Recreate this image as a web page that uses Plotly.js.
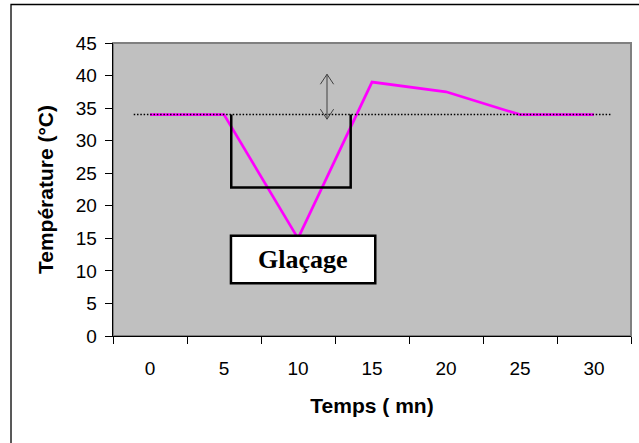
<!DOCTYPE html>
<html>
<head>
<meta charset="utf-8">
<script src="https://cdn.plot.ly/plotly-3.0.1.min.js"></script>
<style>html,body{margin:0;padding:0;background:#fff;}#chart{width:639px;height:443px;}</style>
</head>
<body>
<div id="chart"></div>
<script>
// Data
const temps = [0, 5, 10, 15, 20, 25, 30];            // minutes
const temperature = [34, 34, 15, 39, 37.5, 34, 34]; // °C
const xLabels = ["0", "5", "10", "15", "20", "25", "30"];
const consigne = 34;          // dotted reference level
const consigneX = [-1.1, 31.2];
const glacageRectX = [5.49, 13.56];
const glacageRectYBottom = 22.8;
const glacageBoxX = [5.47, 15.22];
const glacageBoxY = [8.1, 15.4];
const arrowX = 11.96;
const arrowY = [33.3, 40.2];

const trace = {
  x: temps, y: temperature, type: 'scatter', mode: 'lines',
  line: {color: '#FF00FF', width: 2.7}, hoverinfo: 'skip', showlegend: false
};

const hx = 0.45, hy = 1.54;
const shapes = [
  // plot area border (gray)
  {type: 'rect', xref: 'paper', yref: 'paper', x0: 0, x1: 1, y0: 0, y1: 1,
   line: {color: '#808080', width: 2}, layer: 'below'},
  // outer chart border
  {type: 'rect', xref: 'paper', yref: 'paper', x0: -0.1969, x1: 1.1, y0: -0.6, y1: 1.1314,
   line: {color: '#000', width: 1.3}, fillcolor: 'rgba(0,0,0,0)'},
  // dotted reference line
  {type: 'line', x0: consigneX[0], x1: consigneX[1], y0: consigne, y1: consigne,
   line: {color: '#000', width: 1.5, dash: '1.5px,1.8px'}, layer: 'above'},
  // open rectangle under reference
  {type: 'path', path: `M ${glacageRectX[0]},${consigne} L ${glacageRectX[0]},${glacageRectYBottom} L ${glacageRectX[1]},${glacageRectYBottom} L ${glacageRectX[1]},${consigne}`,
   line: {color: '#000', width: 2.5}, layer: 'above'},
  // double arrow
  {type: 'path', path: `M ${arrowX},${arrowY[0]} L ${arrowX},${arrowY[1]} M ${arrowX-hx},${arrowY[1]-hy} L ${arrowX},${arrowY[1]} L ${arrowX+hx},${arrowY[1]-hy} M ${arrowX-hx},${arrowY[0]+hy} L ${arrowX},${arrowY[0]} L ${arrowX+hx},${arrowY[0]+hy}`,
   line: {color: '#404040', width: 1}, layer: 'above'},
  // Glaçage box
  {type: 'rect', x0: glacageBoxX[0], x1: glacageBoxX[1], y0: glacageBoxY[0], y1: glacageBoxY[1],
   fillcolor: '#fff', line: {color: '#000', width: 2.5}, layer: 'above'}
];

const layout = {
  width: 639, height: 443,
  margin: {l: 113, r: 8, t: 43, b: 107},
  paper_bgcolor: '#fff', plot_bgcolor: '#C0C0C0',
  showlegend: false,
  font: {family: 'Liberation Sans, Arial, sans-serif', color: '#000'},
  xaxis: {
    range: [-2.5, 32.5], tickvals: temps, ticktext: xLabels, ticks: '',
    ticklabelstandoff: 15,
    minor: {tick0: 2.5, dtick: 5, ticks: 'outside', ticklen: 7, tickcolor: '#000', tickwidth: 1, showgrid: false},
    showline: true, linecolor: '#000', linewidth: 1.3, showgrid: false, zeroline: false,
    tickfont: {size: 19, family: 'Liberation Sans, Arial, sans-serif'},
    title: {text: 'Temps ( mn)', font: {size: 21, family: 'Liberation Sans, Arial, sans-serif', weight: 'bold'}, standoff: 20},
    fixedrange: true
  },
  yaxis: {
    range: [0, 45], dtick: 5, tick0: 0, ticks: 'outside', ticklen: 7, tickcolor: '#000', tickwidth: 1,
    ticklabelstandoff: 4,
    showline: true, linecolor: '#000', linewidth: 1.3, showgrid: false, zeroline: false,
    tickfont: {size: 19, family: 'Liberation Sans, Arial, sans-serif'},
    title: {text: 'Température (°C)', font: {size: 21, family: 'Liberation Sans, Arial, sans-serif', weight: 'bold'}, standoff: 16},
    fixedrange: true
  },
  shapes: shapes,
  annotations: [
    {x: (glacageBoxX[0] + glacageBoxX[1]) / 2, y: (glacageBoxY[0] + glacageBoxY[1]) / 2,
     text: '<b>Glaçage</b>', showarrow: false,
     font: {family: 'Liberation Serif, Times New Roman, serif', size: 26, color: '#000'}}
  ]
};

Plotly.newPlot('chart', [trace], layout, {displayModeBar: false, staticPlot: true});
</script>
</body>
</html>
